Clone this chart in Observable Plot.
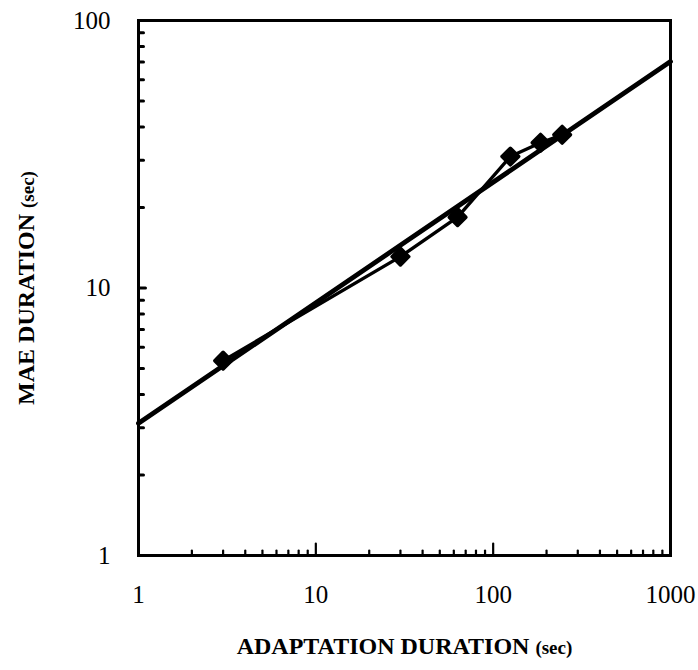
<!DOCTYPE html>
<html>
<head>
<meta charset="utf-8">
<script src="https://cdn.jsdelivr.net/npm/d3@7"></script>
<script src="https://cdn.jsdelivr.net/npm/@observablehq/plot@0.6"></script>
<style>
  html, body { margin: 0; padding: 0; background: #fff; }
  #chart { width: 698px; height: 670px; }
</style>
</head>
<body>
<div id="chart"></div>
<script>
// Data
const adaptation = [3, 30, 63, 125, 185, 245];       // sec
const maeDuration = [5.35, 13.1, 18.4, 31.0, 34.9, 37.4]; // sec
const fitX = [1, 1000];
const fitY = [3.12, 70.2];
const xTickLabels = [1, 10, 100, 1000];
const yTickLabels = [1, 10, 100];
const xMinor = [2,3,4,5,6,7,8,9,20,30,40,50,60,70,80,90,200,300,400,500,600,700,800,900];
const xMajor = [10, 100];
const yMinor = [2,3,4,5,6,7,8,9,20,30,40,50,60,70,80,90];
const yMajor = [10];
const xTitle = "ADAPTATION DURATION (sec)";
const yTitle = "MAE DURATION (sec)";

const points = adaptation.map((x, i) => ({x, y: maeDuration[i]}));
const fit = fitX.map((x, i) => ({x, y: fitY[i]}));

const tickShape = {draw(ctx, l) { ctx.moveTo(0, 0); ctx.lineTo(0, -l); }};
const font = "Liberation Serif, Times New Roman, serif";

const chart = Plot.plot({
  width: 698,
  height: 670,
  marginLeft: 138,
  marginRight: 28,
  marginTop: 20,
  marginBottom: 115,
  style: {fontFamily: font, fontSize: "25px", color: "#000", background: "#fff"},
  x: {type: "log", domain: [1, 1000], nice: false},
  y: {type: "log", domain: [1, 100], nice: false},
  marks: [
    Plot.frame({stroke: "#000", strokeWidth: 3}),
    Plot.axisX({ticks: xTickLabels, tickSize: 0, tickPadding: 30, tickFormat: d => String(d), label: null, fontSize: 25}),
    Plot.axisY({ticks: yTickLabels, tickSize: 0, tickPadding: 28, tickFormat: d => String(d), label: null, fontSize: 25}),
    Plot.vector(xMinor, {x: d => d, frameAnchor: "bottom", length: 5, rotate: 0, anchor: "start", shape: tickShape, stroke: "#000", strokeWidth: 2.2}),
    Plot.vector(xMajor, {x: d => d, frameAnchor: "bottom", length: 12, rotate: 0, anchor: "start", shape: tickShape, stroke: "#000", strokeWidth: 2.2}),
    Plot.vector(yMinor, {y: d => d, frameAnchor: "left", length: 5, rotate: 90, anchor: "start", shape: tickShape, stroke: "#000", strokeWidth: 3}),
    Plot.vector(yMajor, {y: d => d, frameAnchor: "left", length: 7, rotate: 90, anchor: "start", shape: tickShape, stroke: "#000", strokeWidth: 3}),
    Plot.line(fit, {x: "x", y: "y", stroke: "#000", strokeWidth: 4.8}),
    Plot.line(points, {x: "x", y: "y", stroke: "#000", strokeWidth: 3.4}),
    Plot.dot(points, {x: "x", y: "y", symbol: "diamond2", r: 7.5, fill: "#000", stroke: "#000", strokeWidth: 3.5, strokeLinejoin: "round"}),
    Plot.text([xTitle], {text: d => d, frameAnchor: "bottom", textAnchor: "middle", dy: 98, fontSize: 24, fontWeight: "bold"}),
    Plot.text([yTitle], {text: d => d, frameAnchor: "left", textAnchor: "middle", dx: -112, rotate: -90, fontSize: 24, fontWeight: "bold"})
  ]
});

// Make the "(sec)" parts smaller, as in the reference
d3.select(chart).selectAll("text").each(function() {
  const t = this.textContent;
  if (t === xTitle || t === yTitle) {
    const sel = d3.select(this);
    const main = t.replace(" (sec)", " ");
    sel.text(null);
    sel.append("tspan").text(main);
    sel.append("tspan").attr("font-size", "19px").text("(sec)");
  }
});

document.getElementById("chart").appendChild(chart);
</script>
</body>
</html>
